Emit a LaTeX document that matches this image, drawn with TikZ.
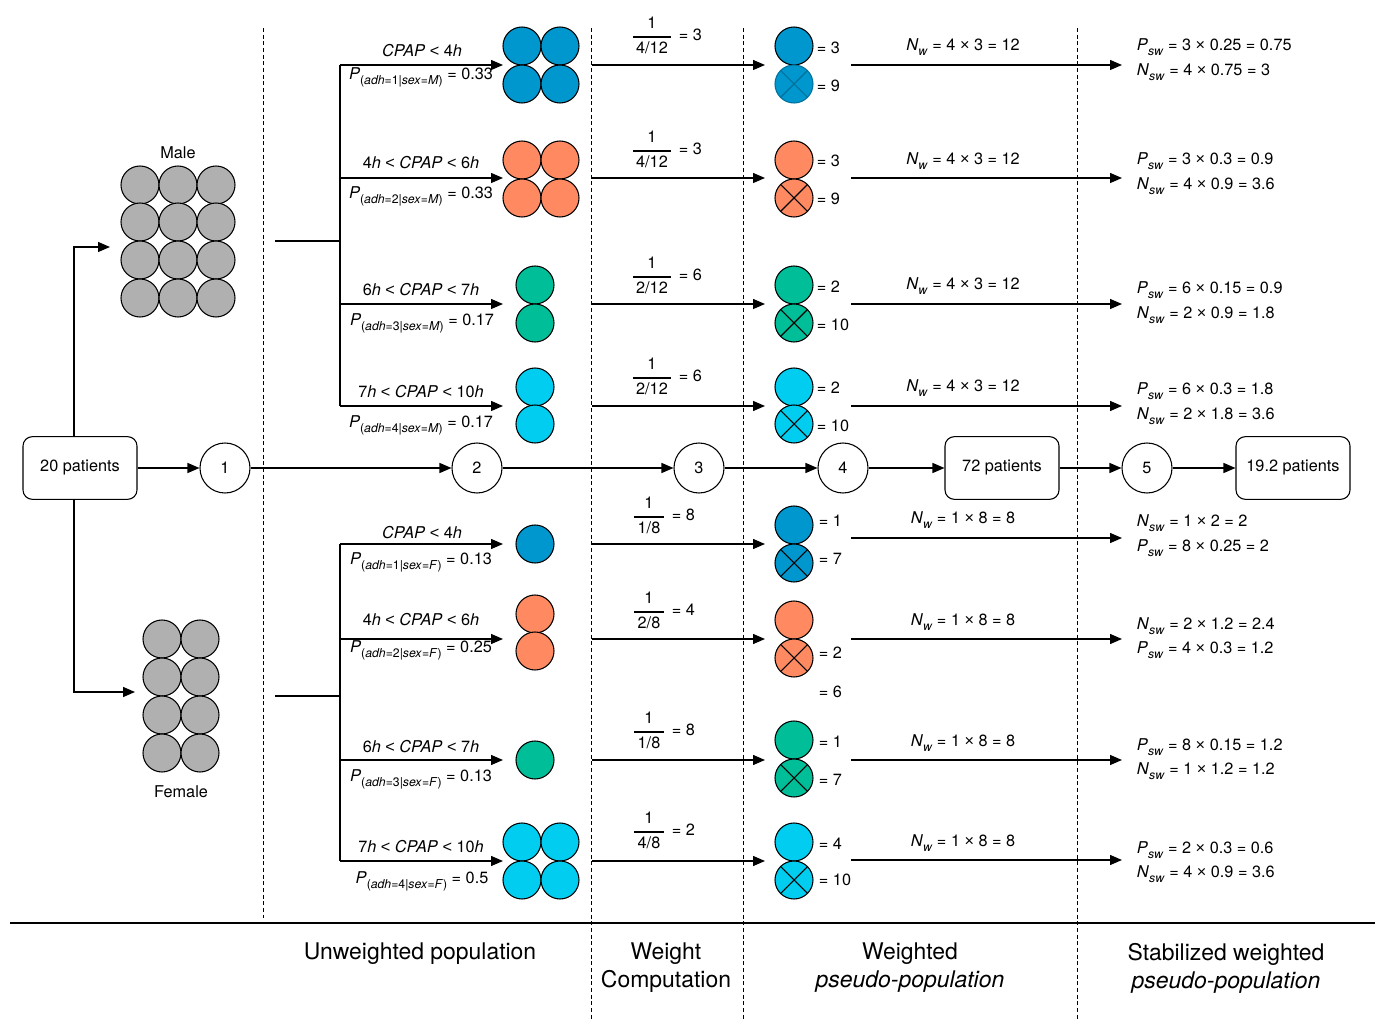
\documentclass[tikz,border=0pt]{standalone}
\usepackage{fontspec}
\setmainfont{TeX Gyre Heros}
\newfontfamily\symf{Liberation Sans}
\usetikzlibrary{arrows.meta}
\definecolor{cblue}{HTML}{0096CE}
\definecolor{corange}{HTML}{FF8A62}
\definecolor{cgreen}{HTML}{00BE98}
\definecolor{ccyan}{HTML}{00CDEF}
\definecolor{cgrey}{HTML}{B0B0B0}
\newcommand\sbs[1]{\raisebox{-0.6ex}{\fontsize{9.2}{10}\selectfont #1}}
\newcommand\Pcond[2]{\textit{P}\sbs{(\textit{adh}=#1|\textit{sex}=\textit{#2})}}
\newcommand\Nw{\textit{N}\sbs{\textit{w}}}
\newcommand\Nsw{\textit{N}\sbs{\textit{sw}}}
\newcommand\Psw{\textit{P}\sbs{\textit{sw}}}
\newcommand\cpap{\textit{CPAP}}
\newcommand\lt{{\symf <}}
\newcommand\tm{{\symf ×}}
% fraction: name, x centre, y centre, half width, denominator, result
\newcommand\wfrac[6]{%
  \node[txt] (#1n) at (#2,#3-12) {1};
  \node[txt] (#1d) at (#2,#3+13) {#5};
  \draw[line width=0.8pt] (#2-#4,#3+4) -- (#2+#4,#3+4);
  \node[txt,anchor=west] (#1r) at (#2+#4+7,#3) {= #6};}
\tikzset{
  ln/.style={line width=1pt},
  arr/.style={line width=1pt,-{Triangle[length=9pt,width=7.5pt]}},
  sepline/.style={line width=0.75pt,dash pattern=on 3pt off 2pt},
  pdot/.style={circle,draw,line width=0.8pt,minimum size=28.5pt,inner sep=0pt},
  xdot/.style={pdot,path picture={\draw[line width=0.8pt]
     (path picture bounding box.north west)--(path picture bounding box.south east)
     (path picture bounding box.north east)--(path picture bounding box.south west);}},
  stnode/.style={circle,draw,line width=0.8pt,minimum size=37.5pt,inner sep=0pt},
  pbox/.style={rectangle,rounded corners=7pt,draw,line width=0.8pt,minimum width=85.5pt,minimum height=47pt},
  txt/.style={inner sep=0.5pt,yshift=-1.5pt},
  big/.style={inner sep=0.5pt,yshift=-2.2pt,align=center,font=\fontsize{17.2}{21}\selectfont},
}
\begin{document}
\begin{tikzpicture}[x=0.75pt,y=-0.75pt,font=\fontsize{12.2}{14.6}\selectfont]
\useasboundingbox (0,0) rectangle (1379,1019);

% separators
\coordinate (d1a) at (263,28); \coordinate (d1b) at (263,918);
\coordinate (d2a) at (591,28); \coordinate (d2b) at (591,1019);
\coordinate (d3a) at (743,28); \coordinate (d3b) at (743,1019);
\coordinate (d4a) at (1077,28); \coordinate (d4b) at (1077,1019);
\draw[sepline] (d1a) -- (d1b);
\draw[sepline] (d2a) -- (d2b);
\draw[sepline] (d3a) -- (d3b);
\draw[sepline] (d4a) -- (d4b);
\coordinate (hl) at (10,923); \coordinate (hr) at (1375,923);
\draw[line width=1.2pt] (hl) -- (hr);

% main flow
\node[pbox] (p20) at (80,468) {20 patients};
\node[stnode] (s1) at (225,468) {1};
\node[stnode] (s2) at (477,468) {2};
\node[stnode] (s3) at (699,468) {3};
\node[stnode] (s4) at (843,468) {4};
\node[pbox] (p72) at (1002,468) {72 patients};
\node[stnode] (s5) at (1147,468) {5};
\node[pbox] (p19) at (1293,468) {19.2 patients};
\draw[arr] (p20) -- (s1);
\draw[arr] (s1) -- (s2);
\draw[arr] (s2) -- (s3);
\draw[arr] (s3) -- (s4);
\draw[arr] (s4) -- (p72);
\draw[arr] (p72) -- (s5);
\draw[arr] (s5) -- (p19);

% male / female split
\coordinate (mtip) at (110,247);
\coordinate (ftip) at (135,692);
\draw[arr] ([xshift=-4.5pt]p20.north) |- (mtip);
\draw[arr] ([xshift=-4.5pt]p20.south) |- (ftip);

% male cluster
\foreach \i/\x in {1/140,2/178,3/216}
  \foreach \j/\y in {1/185,2/222,3/260,4/298}
    \node[pdot,fill=cgrey] (mc\i\j) at (\x,\y) {};
\node[txt] (male) at (178,151) {Male};
% female cluster
\foreach \i/\x in {1/162,2/200}
  \foreach \j/\y in {1/639,2/677,3/715,4/753}
    \node[pdot,fill=cgrey] (fc\i\j) at (\x,\y) {};
\node[txt] (female) at (181,790) {Female};

% branch trunks
\coordinate (mbs) at (275,241); \coordinate (mbj) at (340,241);
\coordinate (mtop) at (340,65); \coordinate (mbot) at (340,406);
\draw[ln] (mbs) -- (mbj);
\draw[ln] (mtop) -- (mbot);
\coordinate (fbs) at (275,696); \coordinate (fbj) at (340,696);
\coordinate (ftop) at (340,544); \coordinate (fbot) at (340,861);
\draw[ln] (fbs) -- (fbj);
\draw[ln] (ftop) -- (fbot);

% stratum arrows and weight arrows
\foreach \n/\y in {M1/65,M2/178,M3/304,M4/406,F1/544,F2/639,F3/760,F4/861}{
  \coordinate (j\n) at (340,\y); \coordinate (u\n) at (503,\y);
  \draw[arr] (j\n) -- (u\n);
  \coordinate (ws\n) at (592,\y); \coordinate (we\n) at (765,\y);
  \draw[arr] (ws\n) -- (we\n);
}
\foreach \n/\y in {M1/65,M2/178,M3/304,M4/406,F1/538,F2/639,F3/760,F4/860}{
  \coordinate (ns\n) at (851,\y); \coordinate (ne\n) at (1122,\y);
  \draw[arr] (ns\n) -- (ne\n);
}

% stratum labels
\node[txt] (cM1) at (422,49) {\cpap{} \lt{} 4\textit{h}};
\node[txt] (pM1) at (421,75) {\Pcond{1}{M} = 0.33};
\node[txt] (cM2) at (421,161) {4\textit{h} \lt{} \cpap{} \lt{} 6\textit{h}};
\node[txt] (pM2) at (421,194) {\Pcond{2}{M} = 0.33};
\node[txt] (cM3) at (421,288) {6\textit{h} \lt{} \cpap{} \lt{} 7\textit{h}};
\node[txt] (pM3) at (422,321) {\Pcond{3}{M} = 0.17};
\node[txt] (cM4) at (421,390) {7\textit{h} \lt{} \cpap{} \lt{} 10\textit{h}};
\node[txt] (pM4) at (421,423) {\Pcond{4}{M} = 0.17};
\node[txt] (cF1) at (422,531) {\cpap{} \lt{} 4\textit{h}};
\node[txt] (pF1) at (421,560) {\Pcond{1}{F} = 0.13};
\node[txt] (cF2) at (421,618) {4\textit{h} \lt{} \cpap{} \lt{} 6\textit{h}};
\node[txt] (pF2) at (421,648) {\Pcond{2}{F} = 0.25};
\node[txt] (cF3) at (421,745) {6\textit{h} \lt{} \cpap{} \lt{} 7\textit{h}};
\node[txt] (pF3) at (421,777) {\Pcond{3}{F} = 0.13};
\node[txt] (cF4) at (421,845) {7\textit{h} \lt{} \cpap{} \lt{} 10\textit{h}};
\node[txt] (pF4) at (422,879) {\Pcond{4}{F} = 0.5};

% unweighted circles
\node[pdot,fill=cblue] (uaM1) at (522,46) {};
\node[pdot,fill=cblue] (ubM1) at (560,46) {};
\node[pdot,fill=cblue] (ucM1) at (522,84) {};
\node[pdot,fill=cblue] (udM1) at (560,84) {};
\node[pdot,fill=corange] (uaM2) at (522,160) {};
\node[pdot,fill=corange] (ubM2) at (560,160) {};
\node[pdot,fill=corange] (ucM2) at (522,198) {};
\node[pdot,fill=corange] (udM2) at (560,198) {};
\node[pdot,fill=cgreen] (uaM3) at (535,285) {};
\node[pdot,fill=cgreen] (ubM3) at (535,323) {};
\node[pdot,fill=ccyan] (uaM4) at (535,387) {};
\node[pdot,fill=ccyan] (ubM4) at (535,424) {};
\node[pdot,fill=cblue] (uaF1) at (535,544) {};
\node[pdot,fill=corange] (uaF2) at (535,614) {};
\node[pdot,fill=corange] (ubF2) at (535,651) {};
\node[pdot,fill=cgreen] (uaF3) at (535,760) {};
\node[pdot,fill=ccyan] (uaF4) at (522,842) {};
\node[pdot,fill=ccyan] (ubF4) at (560,842) {};
\node[pdot,fill=ccyan] (ucF4) at (522,880) {};
\node[pdot,fill=ccyan] (udF4) at (560,880) {};

% weight fractions
\wfrac{fM1}{652}{33}{19}{4/12}{3}
\wfrac{fM2}{652}{147}{19}{4/12}{3}
\wfrac{fM3}{652}{273}{19}{2/12}{6}
\wfrac{fM4}{652}{374}{19}{2/12}{6}
\wfrac{fF1}{649}{513}{15}{1/8}{8}
\wfrac{fF2}{649}{608}{15}{2/8}{4}
\wfrac{fF3}{649}{728}{15}{1/8}{8}
\wfrac{fF4}{649}{828}{15}{4/8}{2}

% weighted circles
\node[pdot,fill=cblue] (waM1) at (794,46) {};
\node[xdot,fill=cblue,draw=cblue!75!black] (wbM1) at (794,84) {};
\node[pdot,fill=corange] (waM2) at (794,160) {};
\node[xdot,fill=corange] (wbM2) at (794,198) {};
\node[pdot,fill=cgreen] (waM3) at (794,285) {};
\node[xdot,fill=cgreen] (wbM3) at (794,323) {};
\node[pdot,fill=ccyan] (waM4) at (794,387) {};
\node[xdot,fill=ccyan] (wbM4) at (794,424) {};
\node[pdot,fill=cblue] (waF1) at (794,525) {};
\node[xdot,fill=cblue] (wbF1) at (794,563) {};
\node[pdot,fill=corange] (waF2) at (794,620) {};
\node[xdot,fill=corange] (wbF2) at (794,658) {};
\node[pdot,fill=cgreen] (waF3) at (794,740) {};
\node[xdot,fill=cgreen] (wbF3) at (794,778) {};
\node[pdot,fill=ccyan] (waF4) at (794,842) {};
\node[xdot,fill=ccyan] (wbF4) at (794,880) {};

\node[txt,anchor=west] (qaM1) at (816,46) {= 3};
\node[txt,anchor=west] (qbM1) at (816,84) {= 9};
\node[txt,anchor=west] (qaM2) at (816,159) {= 3};
\node[txt,anchor=west] (qbM2) at (816,197) {= 9};
\node[txt,anchor=west] (qaM3) at (816,285) {= 2};
\node[txt,anchor=west] (qbM3) at (816,323) {= 10};
\node[txt,anchor=west] (qaM4) at (816,386) {= 2};
\node[txt,anchor=west] (qbM4) at (816,424) {= 10};
\node[txt,anchor=west] (qaF1) at (818,519) {= 1};
\node[txt,anchor=west] (qbF1) at (818,557) {= 7};
\node[txt,anchor=west] (qbF2) at (818,651) {= 2};
\node[txt,anchor=west] (qcF2) at (818,690) {= 6};
\node[txt,anchor=west] (qaF3) at (818,740) {= 1};
\node[txt,anchor=west] (qbF3) at (818,778) {= 7};
\node[txt,anchor=west] (qaF4) at (818,842) {= 4};
\node[txt,anchor=west] (qbF4) at (818,878) {= 10};

% N_w labels
\node[txt] (nwM1) at (963,45) {\Nw{} = 4 \tm{} 3 = 12};
\node[txt] (nwM2) at (963,159) {\Nw{} = 4 \tm{} 3 = 12};
\node[txt] (nwM3) at (963,284) {\Nw{} = 4 \tm{} 3 = 12};
\node[txt] (nwM4) at (963,386) {\Nw{} = 4 \tm{} 3 = 12};
\node[txt] (nwF1) at (963,518) {\Nw{} = 1 \tm{} 8 = 8};
\node[txt] (nwF2) at (963,620) {\Nw{} = 1 \tm{} 8 = 8};
\node[txt] (nwF3) at (963,741) {\Nw{} = 1 \tm{} 8 = 8};
\node[txt] (nwF4) at (963,841) {\Nw{} = 1 \tm{} 8 = 8};

% stabilized weights
\node[txt,anchor=west] (raM1) at (1136,45) {\Psw{} = 3 \tm{} 0.25 = 0.75};
\node[txt,anchor=west] (rbM1) at (1136,70) {\Nsw{} = 4 \tm{} 0.75 = 3};
\node[txt,anchor=west] (raM2) at (1136,159) {\Psw{} = 3 \tm{} 0.3 = 0.9};
\node[txt,anchor=west] (rbM2) at (1136,184) {\Nsw{} = 4 \tm{} 0.9 = 3.6};
\node[txt,anchor=west] (raM3) at (1136,288) {\Psw{} = 6 \tm{} 0.15 = 0.9};
\node[txt,anchor=west] (rbM3) at (1136,313) {\Nsw{} = 2 \tm{} 0.9 = 1.8};
\node[txt,anchor=west] (raM4) at (1136,389) {\Psw{} = 6 \tm{} 0.3 = 1.8};
\node[txt,anchor=west] (rbM4) at (1136,414) {\Nsw{} = 2 \tm{} 1.8 = 3.6};
\node[txt,anchor=west] (raF1) at (1136,521) {\Nsw{} = 1 \tm{} 2 = 2};
\node[txt,anchor=west] (rbF1) at (1136,546) {\Psw{} = 8 \tm{} 0.25 = 2};
\node[txt,anchor=west] (raF2) at (1136,624) {\Nsw{} = 2 \tm{} 1.2 = 2.4};
\node[txt,anchor=west] (rbF2) at (1136,648) {\Psw{} = 4 \tm{} 0.3 = 1.2};
\node[txt,anchor=west] (raF3) at (1136,745) {\Psw{} = 8 \tm{} 0.15 = 1.2};
\node[txt,anchor=west] (rbF3) at (1136,769) {\Nsw{} = 1 \tm{} 1.2 = 1.2};
\node[txt,anchor=west] (raF4) at (1136,848) {\Psw{} = 2 \tm{} 0.3 = 0.6};
\node[txt,anchor=west] (rbF4) at (1136,872) {\Nsw{} = 4 \tm{} 0.9 = 3.6};

% bottom headings
\node[big] (h1) at (420,951) {Unweighted population};
\node[big] (h2) at (666,965) {Weight\\Computation};
\node[big] (h3) at (910,965) {Weighted\\\textit{pseudo-population}};
\node[big] (h4) at (1226,965) {Stabilized weighted\\\textit{pseudo-population}};
\end{tikzpicture}
\end{document}
